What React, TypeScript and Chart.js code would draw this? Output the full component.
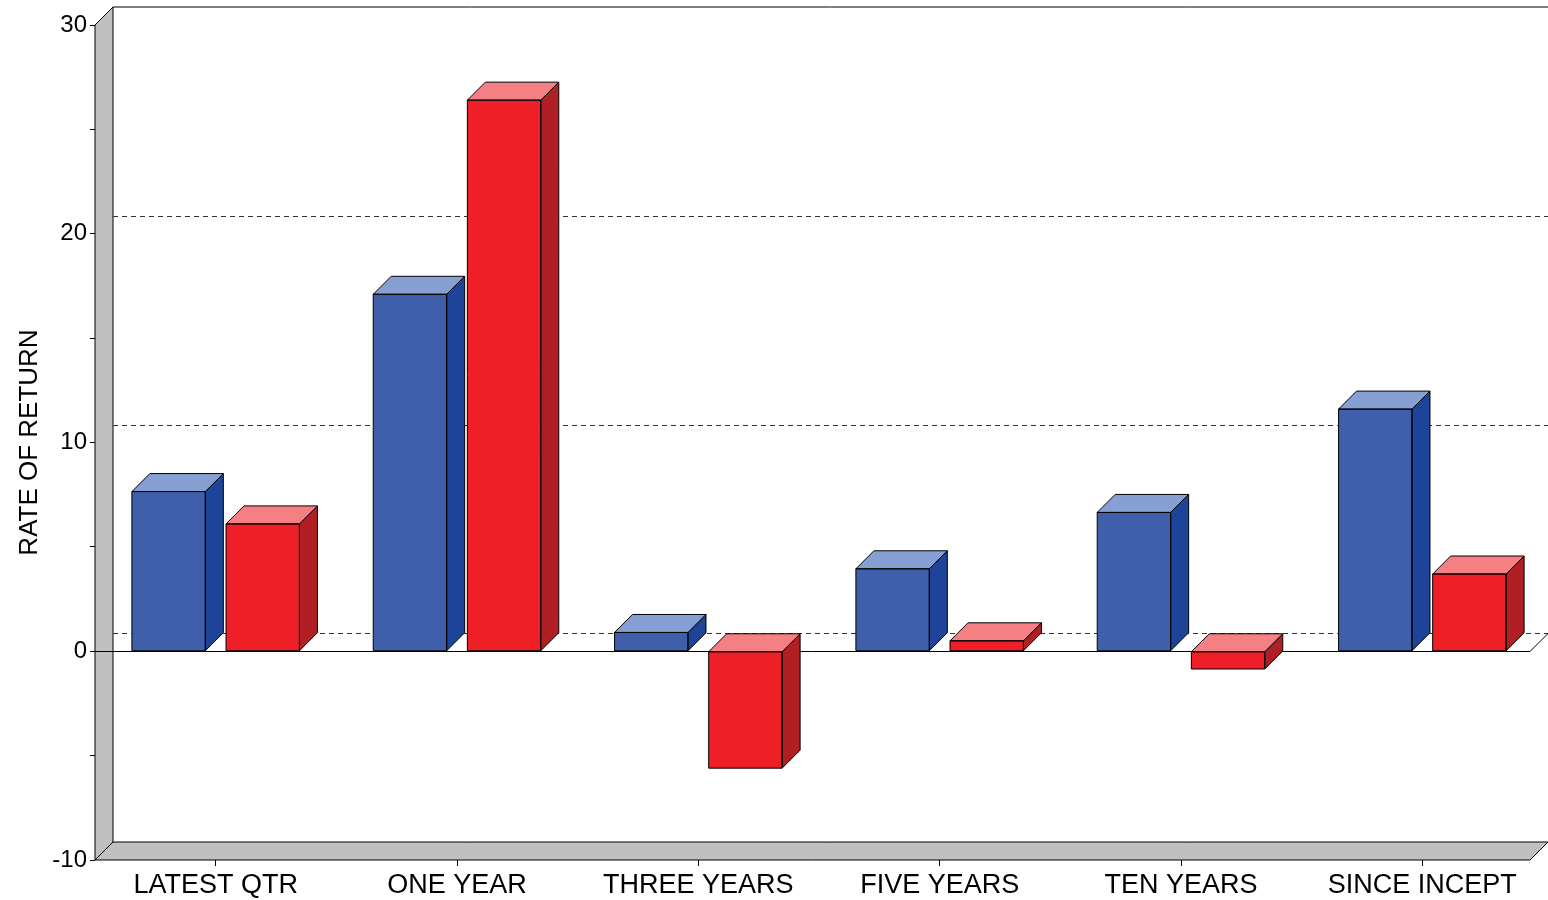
import React, { useEffect, useRef } from "react";
import { Chart, registerables } from "chart.js";
Chart.register(...registerables);

const categories = ["LATEST QTR", "ONE YEAR", "THREE YEARS", "FIVE YEARS", "TEN YEARS", "SINCE INCEPT"];
const seriesA = [7.65, 17.1, 0.9, 3.95, 6.65, 11.6];
const seriesB = [6.1, 26.4, -5.6, 0.5, -0.85, 3.7];
const yMin = -10;
const yMax = 30;
const backGridValues = [0, 10, 20];

const D = 18;
const faces = [
  { front: "#3f5fab", side: "#1e4499", top: "#86a0d4" },
  { front: "#ee1f27", side: "#b01f24", top: "#f58084" },
];

const poly = (ctx: CanvasRenderingContext2D, pts: number[][], fill: string | null) => {
  ctx.beginPath();
  ctx.moveTo(pts[0][0], pts[0][1]);
  for (let i = 1; i < pts.length; i++) ctx.lineTo(pts[i][0], pts[i][1]);
  ctx.closePath();
  if (fill) { ctx.fillStyle = fill; ctx.fill(); }
  ctx.stroke();
};

const threeD = {
  id: "threeD",
  beforeDatasetsDraw(chart: any) {
    const { ctx, chartArea: a, scales } = chart;
    const y = scales.y;
    const W = chart.width;
    ctx.save();
    ctx.strokeStyle = "#000";
    ctx.lineWidth = 1;
    poly(ctx, [[a.left, a.top], [a.left + D, a.top - D], [a.left + D, a.bottom - D], [a.left, a.bottom]], "#c0c0c0");
    poly(ctx, [[a.left, a.bottom], [a.left + D, a.bottom - D], [W, a.bottom - D], [W - D, a.bottom]], "#c0c0c0");
    ctx.beginPath();
    ctx.moveTo(a.left + D, a.top - D);
    ctx.lineTo(W, a.top - D);
    ctx.stroke();
    ctx.setLineDash([5, 4]);
    ctx.strokeStyle = "#333";
    backGridValues.forEach((v) => {
      const py = Math.round(y.getPixelForValue(v) - D) + 0.5;
      ctx.beginPath();
      ctx.moveTo(a.left + D, py);
      ctx.lineTo(W, py);
      ctx.stroke();
    });
    ctx.setLineDash([]);
    ctx.strokeStyle = "#000";
    const z = Math.round(y.getPixelForValue(0)) + 0.5;
    ctx.beginPath();
    ctx.moveTo(a.left, z);
    ctx.lineTo(W - D, z);
    ctx.lineTo(W, z - D);
    ctx.stroke();
    ctx.restore();
  },
  afterDatasetsDraw(chart: any) {
    const { ctx } = chart;
    ctx.save();
    ctx.strokeStyle = "#000";
    ctx.lineWidth = 1;
    chart.data.datasets.forEach((ds: any, di: number) => {
      const meta = chart.getDatasetMeta(di);
      meta.data.forEach((el: any) => {
        const w = el.width;
        const l = el.x - w / 2, r = el.x + w / 2;
        const t = Math.min(el.y, el.base), b = Math.max(el.y, el.base);
        poly(ctx, [[r, t], [r + D, t - D], [r + D, b - D], [r, b]], faces[di].side);
        poly(ctx, [[l, t], [l + D, t - D], [r + D, t - D], [r, t]], faces[di].top);
        ctx.beginPath();
        ctx.rect(l, t, w, b - t);
        ctx.stroke();
      });
    });
    ctx.restore();
  },
};

export default function App() {
  const ref = useRef<HTMLCanvasElement>(null);
  useEffect(() => {
    document.body.style.margin = "0";
    const font = "'Liberation Sans', Arial, sans-serif";
    const chart = new Chart(ref.current!, {
      type: "bar",
      data: {
        labels: categories,
        datasets: [
          { label: "A", data: seriesA, backgroundColor: faces[0].front, borderWidth: 0 },
          { label: "B", data: seriesB, backgroundColor: faces[1].front, borderWidth: 0 },
        ],
      },
      plugins: [threeD],
      options: {
        animation: false,
        responsive: false,
        layout: { padding: { top: 25, right: 5, left: 0, bottom: 0 } },
        datasets: { bar: { categoryPercentage: 0.78, barPercentage: 0.78 } },
        plugins: { legend: { display: false }, tooltip: { enabled: false } },
        scales: {
          x: {
            grid: { offset: false, drawOnChartArea: false, tickLength: 6, color: "#000" },
            border: { display: false },
            ticks: { color: "#000", font: { family: font, size: 27 }, padding: 3 },
            afterFit: (s: any) => { s.height = 40; },
          },
          y: {
            min: yMin, max: yMax,
            grid: { drawOnChartArea: false, tickLength: 5, color: "#000" },
            border: { display: false },
            ticks: {
              stepSize: 5, color: "#000", font: { family: font, size: 24 }, padding: 3,
              callback: (v: any) => (v % 10 === 0 ? String(v) : ""),
            },
            title: { display: true, text: "RATE OF RETURN", color: "#000", font: { family: font, size: 26 }, padding: { top: 14, bottom: 0 } },
            afterFit: (s: any) => { s.width = 95; },
          },
        },
      },
    });
    return () => chart.destroy();
  }, []);
  return <canvas ref={ref} width={1548} height={900} style={{ display: "block" }} />;
}
